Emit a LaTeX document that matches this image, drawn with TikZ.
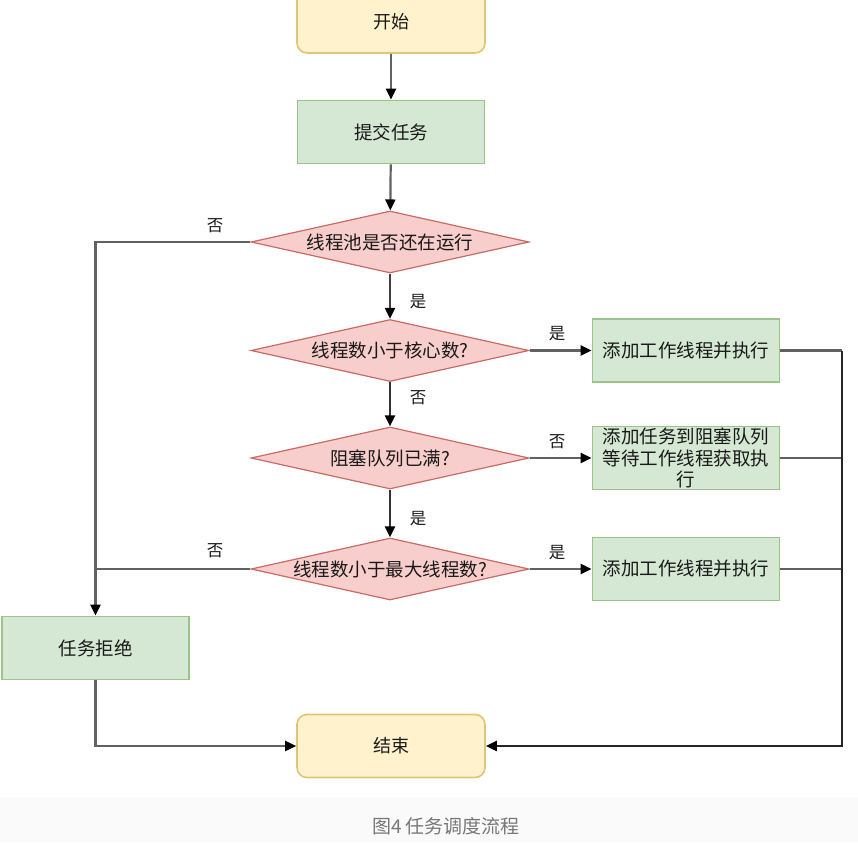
\documentclass[tikz,border=0pt]{standalone}
\usepackage{fontspec}
\setmainfont{Noto Sans CJK SC}
\usetikzlibrary{shapes.geometric,arrows.meta}
\definecolor{ybg}{HTML}{FFF2CC}
\definecolor{ybd}{HTML}{D6B656}
\definecolor{gbg}{HTML}{D5E8D4}
\definecolor{gbd}{HTML}{9CC48A}
\definecolor{rbg}{HTML}{F8CECC}
\definecolor{rbd}{HTML}{C86A66}
\definecolor{capbg}{HTML}{FAFAFA}
\definecolor{captxt}{HTML}{777777}
\tikzset{
  term/.style={draw=ybd!80,fill=ybg,line width=1.6pt,rounded corners=10pt,minimum width=188pt,minimum height=63pt,inner sep=0pt,text=black!90,font=\fontsize{18}{21}\selectfont},
  procbox/.style={draw=gbd,fill=gbg,line width=1.8pt,minimum width=187pt,minimum height=63pt,inner sep=0pt,align=center,text=black!90,font=\fontsize{18.5}{21.5}\selectfont},
  decide/.style={diamond,draw=rbd,fill=rbg,line width=1.2pt,aspect=4.5,minimum width=278pt,minimum height=62pt,inner sep=0pt,text=black!90,font=\fontsize{18.5}{22}\selectfont},
  tip/.style={-{Stealth[length=11pt,width=10pt,inset=0pt,color=black]}},
  flow/.style={draw=black!62,line width=2.2pt,tip},
  flowplain/.style={draw=black!62,line width=2.2pt},
  flowdark/.style={draw=black!85,line width=2.4pt},
  lbl/.style={font=\fontsize{16.5}{19}\selectfont,inner sep=0pt,text=black!90},
}
\begin{document}
\begin{tikzpicture}[x=1pt,y=-1pt]
\useasboundingbox (0,0) rectangle (858,842);
\clip (0,0) rectangle (858,842);
\fill[capbg] (0,797) rectangle (858,842);
\node[font=\fontsize{19}{22}\selectfont,text=captxt] (cap) at (446,826) {图4 任务调度流程};

\node[term] (start) at (391,21.5) {开始};
\node[procbox] (submit) at (391,132) {提交任务};
\node[decide] (d1) at (390,242) {线程池是否还在运行};
\node[decide] (d2) at (390,350.5) {线程数小于核心数?};
\node[decide] (d3) at (390,458) {阻塞队列已满?};
\node[decide] (d4) at (390,569) {线程数小于最大线程数?};
\node[procbox] (r1) at (686,350.5) {添加工作线程并执行};
\node[procbox] (r2) at (686,458) {添加任务到阻塞队列\\等待工作线程获取执\\行};
\node[procbox] (r3) at (686,569) {添加工作线程并执行};
\node[procbox] (reject) at (95.5,648) {任务拒绝};
\node[term] (end) at (391,746) {结束};

\coordinate (lj) at (95.5,569);
\coordinate (rtop) at (842,350.5);
\coordinate (rmid) at (842,458);
\coordinate (rlow) at (842,569);
\coordinate (rbot) at (842,746);

\draw[flow] (start) -- (submit);
\draw[flow] (submit) -- (d1);
\draw[flow,draw=black!75] (d1) -- (d2);
\draw[flow,draw=black!80] (d2) -- (d3);
\draw[flow,draw=black!80] (d3) -- (d4);
\draw[flow] (d1.west) -| (reject.north);
\draw[flowplain] (d4.west) -- (lj);
\draw[flow] (d2.east) -- (r1.west);
\draw[flow] (d3.east) -- (r2.west);
\draw[flow] (d4.east) -- (r3.west);
\draw[flowplain] (r1.east) -- (rtop);
\draw[flowplain] (r2.east) -- (rmid);
\draw[flowplain] (r3.east) -- (rlow);
\draw[flowdark,tip] (rtop) -- (rbot) -- (end.east);
\draw[flow] (reject.south) |- (end.west);

\node[lbl] (l1) at (215,226) {否};
\node[lbl] (l2) at (418,302) {是};
\node[lbl] (l3) at (557,334) {是};
\node[lbl] (l4) at (418,398) {否};
\node[lbl] (l5) at (557,442) {否};
\node[lbl] (l6) at (418,519) {是};
\node[lbl] (l7) at (215,551) {否};
\node[lbl] (l8) at (557,553) {是};
\end{tikzpicture}
\end{document}
